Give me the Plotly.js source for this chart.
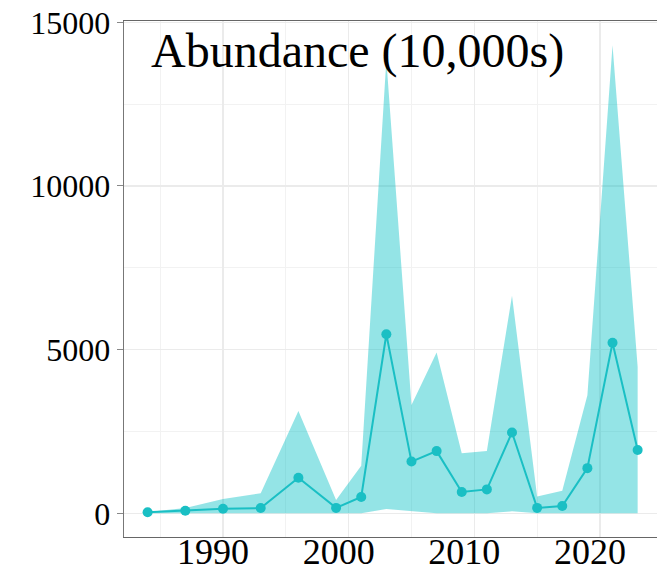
<!DOCTYPE html>
<html>
<head>
<meta charset="utf-8">
<script src="https://cdn.plot.ly/plotly-3.0.1.min.js"></script>
<style>html,body{margin:0;padding:0;background:#fff;}#chart{width:659px;height:568px;}</style>
</head>
<body>
<div id="chart"></div>
<script>
const years = [1984,1987,1990,1993,1996,1999,2001,2003,2005,2007,2009,2011,2013,2015,2017,2019,2021,2023];
const meanVals = [30,80,140,160,1085,165,500,5470,1580,1900,650,730,2470,165,225,1380,5210,1935];
const lowerVals = [0,0,0,0,0,0,0,130,60,0,0,0,60,0,0,0,0,0];
const upperVals = [40,160,440,610,3125,410,1455,13850,3310,4910,1835,1900,6650,510,690,3610,14300,4480];
const xTickVals = [1990,2000,2010,2020];
const yTickVals = [0,5000,10000,15000];
const titleText = 'Abundance (10,000s)';

const cyan = '#1ABFC4';
const band = 'rgba(0,191,196,0.42)';

const traces = [
  {x: years, y: lowerVals, type: 'scatter', mode: 'lines', line: {width: 0, color: band}, hoverinfo: 'skip', showlegend: false},
  {x: years, y: upperVals, type: 'scatter', mode: 'lines', fill: 'tonexty', fillcolor: band, line: {width: 0, color: band}, hoverinfo: 'skip', showlegend: false},
  {x: years, y: meanVals, type: 'scatter', mode: 'lines+markers', line: {color: cyan, width: 2}, marker: {color: cyan, size: 10}, showlegend: false}
];

const layout = {
  width: 659, height: 568,
  margin: {l: 124, r: 2, t: 21, b: 31},
  paper_bgcolor: '#fff', plot_bgcolor: '#fff',
  showlegend: false,
  xaxis: {
    range: [1982.12, 2024.54],
    tickmode: 'array', tickvals: xTickVals, ticktext: xTickVals.map(String),
    showgrid: true, gridcolor: '#EBEBEB', gridwidth: 1.2,
    minor: {dtick: 5, tick0: 1985, showgrid: true, gridcolor: '#F2F2F2', gridwidth: 1},
    zeroline: false,
    showline: true, linecolor: '#666', linewidth: 1.3, mirror: true,
    ticks: '', ticklabelshift: -10, ticklabelstandoff: -18,
    tickfont: {family: 'Liberation Serif', size: 36, color: '#000'}
  },
  yaxis: {
    range: [-724, 15040],
    tickmode: 'array', tickvals: yTickVals, ticktext: yTickVals.map(String),
    showgrid: true, gridcolor: '#EBEBEB', gridwidth: 1.2,
    minor: {dtick: 2500, tick0: 0, showgrid: true, gridcolor: '#F2F2F2', gridwidth: 1},
    zeroline: false,
    showline: true, linecolor: '#777', linewidth: 1.3, mirror: false,
    ticks: 'outside', ticklen: 6, tickcolor: '#888', tickwidth: 1,
    tickfont: {family: 'Liberation Serif', size: 32, color: '#000'}
  },
  annotations: [{
    text: titleText, xref: 'paper', yref: 'paper',
    x: (149 - 124) / 533, xanchor: 'left',
    y: (537 - 51) / 516, yanchor: 'middle',
    showarrow: false,
    font: {family: 'Liberation Serif', size: 48, color: '#000'}
  }]
};

Plotly.newPlot('chart', traces, layout, {displayModeBar: false, staticPlot: true});
</script>
</body>
</html>
